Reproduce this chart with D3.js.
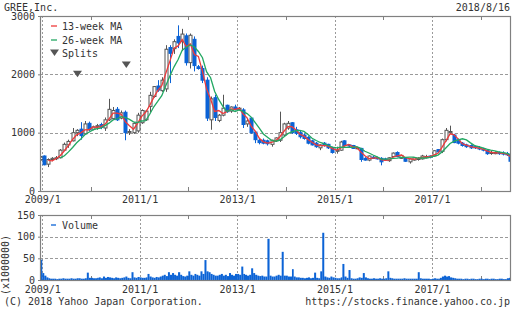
<!DOCTYPE html>
<html>
<head>
<meta charset="utf-8">
<script src="https://cdn.jsdelivr.net/npm/d3@7"></script>
<style>
body { margin: 0; background: #fff; }
text { font-family: "DejaVu Sans Mono", monospace; font-size: 10px; fill: #333; }
</style>
</head>
<body>
<div id="chart"></div>
<script>

// monthly candles from 2008/12, [open, high, low, close]
const firstMonth = "2008-12";
const ohlc = [
    [540,600,520,580],
    [600,610,440,450],[460,560,410,540],[540,580,510,560],[560,600,530,570],[570,720,560,700],[700,830,690,800],
    [790,880,740,850],[860,1080,850,1000],[1000,1060,940,1040],[1060,1180,880,950],[980,1200,960,1150],[1160,1190,1030,1050],
    [1060,1120,1040,1100],[1100,1150,1050,1120],[1140,1170,1060,1090],[1080,1260,1030,1220],[1220,1580,1200,1400],[1240,1440,1220,1380],
    [1400,1440,1200,1220],[1250,1380,1230,1340],[1350,1380,870,1000],[1000,1060,960,1020],[1000,1180,980,1160],[1030,1340,1000,1300],
    [1170,1400,1150,1380],[1220,1390,1200,1370],[1450,1700,1350,1640],[1620,1800,1600,1790],[1800,1900,1700,1730],[1720,1950,1700,1900],
    [1750,2500,1700,2430],[2460,2500,1850,2360],[2440,2600,2350,2560],[2650,2840,2450,2540],[2560,2780,2400,2690],[2660,2700,2150,2200],
    [2200,2700,2100,2670],[2600,2650,2050,2150],[2130,2160,2080,2100],[2100,2150,1850,1900],[1900,1950,1200,1250],[1220,1620,1050,1580],
    [1600,1650,1200,1260],[1210,1320,1180,1300],[1300,1650,1280,1420],[1470,1480,1340,1360],[1370,1450,1340,1440],[1440,1480,1380,1400],
    [1400,1440,1380,1420],[1390,1420,1080,1140],[1150,1250,1100,1200],[1250,1260,980,1000],[1010,1030,820,880],[870,900,800,830],
    [870,900,800,820],[860,880,780,810],[800,880,760,870],[860,920,840,910],[870,1360,840,1000],[960,1170,930,1150],
    [1080,1200,1050,1160],[1170,1180,980,1000],[1050,1100,960,990],[1000,1030,900,930],[960,990,880,900],[920,940,800,820],
    [860,880,780,790],[820,840,740,760],[740,800,700,790],[820,840,760,780],[800,810,720,740],[740,760,640,660],
    [680,760,640,700],[700,860,690,840],[860,870,760,780],[790,800,750,770],[780,790,720,730],[730,760,720,740],
    [730,740,500,540],[560,580,520,530],[530,610,510,600],[580,600,550,560],[570,590,540,550],[560,580,440,500],
    [550,570,520,530],[520,580,500,570],[590,660,580,650],[660,680,580,590],[560,620,550,610],[560,570,500,510],
    [500,560,470,550],[530,580,520,570],[540,580,520,560],[550,620,540,600],[570,620,560,590],[600,610,560,580],
    [600,700,590,690],[710,720,650,670],[680,900,650,880],[880,1080,850,1040],[1000,1120,980,1020],[960,980,820,830],
    [880,900,800,820],[820,840,760,780],[790,810,740,760],[780,800,720,740],[760,780,720,740],[740,770,700,720],
    [720,740,680,700],[700,720,620,640],[650,690,620,660],[640,680,630,660],[660,680,620,640],[650,680,610,640],
    [640,670,600,620],[620,640,500,510]
];

// volume per half month (x1000000), from 2008/12 second half
const volume = [
    47,
    16,10, 6,4, 3,3, 3,2, 3,3, 4,3, 3,3, 4,3, 3,4, 4,3, 3,4, 17,5,
    5,4, 4,5, 6,4, 8,5, 7,6, 5,4, 6,5, 4,5, 6,8, 5,4, 18,6, 5,7,
    6,5, 5,6, 14,8, 6,5, 7,6, 8,10, 12,9, 18,12, 16,12, 10,18, 12,9, 8,10,
    20,12, 10,14, 12,10, 20,14, 46,20, 18,14, 12,10, 10,12, 14,10, 12,9, 16,12, 10,14,
    14,12, 31,14, 12,10, 12,27, 16,12, 10,9, 10,8, 8,95, 10,8, 8,10, 12,10, 65,10,
    10,8, 8,25, 8,6, 6,5, 5,4, 5,6, 4,5, 17,5, 4,20, 109,8, 6,5, 8,6,
    5,4, 4,6, 37,8, 5,23, 4,3, 3,4, 6,5, 16,6, 4,3, 3,4, 3,3, 4,3,
    3,4, 20,5, 4,3, 3,3, 3,3, 4,3, 3,3, 3,3, 3,18, 4,3, 3,3, 3,2,
    3,4, 3,3, 5,8, 10,8, 9,6, 5,4, 3,3, 3,2, 3,3, 2,3, 3,2, 2,3,
    3,2, 3,3, 2,3, 3,2, 2,3, 3,2, 2,4, 5
];

const splitDates = ["2009-09-22", "2010-09-23"];
const splitLevels = [1950, 2110];

const maWeeks = [13, 26];
const maColors = ["#ee3a3a", "#22a862"];

const priceTicks = [0, 1000, 2000, 3000];
const volTicks = [0, 50, 100, 150];
const yearLabels = ["2009/1", "2011/1", "2013/1", "2015/1", "2017/1"];
const minorYears = ["2010/1", "2012/1", "2014/1", "2016/1", "2018/1"];

const title = "GREE,Inc.";
const asOf = "2018/8/16";

main();

function main() {

    let W = 512, H = 310;
    let left = 40, right = 511;
    let pTop = 16, pBot = 191;
    let vTop = 215, vBot = 280;

    let blue = "#0b63d6";
    let frame = "#808080";
    let grid = "#9a9a9a";

    let svg = d3.select("#chart").append("svg")
        .attr("width", W)
        .attr("height", H);

    let parseDay = d3.timeParse("%Y-%m-%d");
    let parseMonth = d3.timeParse("%Y-%m");
    let parseYM = d3.timeParse("%Y/%m");

    let start = parseDay("2008-12-15");
    let end = parseDay("2018-08-16");

    let x = d3.scaleTime().domain([start, end]).range([left, right]);
    let y = d3.scaleLinear().domain([0, 3000]).range([pBot, pTop]);
    let yv = d3.scaleLinear().domain([0, 150]).range([vBot, vTop]);

    let defs = svg.append("defs");
    defs.append("clipPath").attr("id", "clipP").append("rect")
        .attr("x", left).attr("y", pTop).attr("width", right - left).attr("height", pBot - pTop);
    defs.append("clipPath").attr("id", "clipV").append("rect")
        .attr("x", left).attr("y", vTop).attr("width", right - left).attr("height", vBot - vTop);

    // candles
    let m0 = parseMonth(firstMonth);
    let candles = ohlc.map((d, i) => {
        let s = d3.timeMonth.offset(m0, i);
        let e = d3.timeMonth.offset(m0, i + 1);
        let a = s < start ? start : s;
        let b = e > end ? end : e;
        return {date: new Date((+a + +b) / 2), o: d[0], h: d[1], l: d[2], c: d[3]};
    });

    // moving averages (13 / 26 weeks ~ 3 / 6 months)
    let maSeries = maWeeks.map(w => {
        let n = Math.round(w / 4.33);
        return candles.map((d, i) => i < n - 1 ? null :
            {date: d.date, v: d3.mean(candles.slice(i - n + 1, i + 1), e => e.c)});
    });

    // volume half months
    let vols = volume.map((v, i) => {
        let k = i + 1;
        let m = d3.timeMonth.offset(m0, Math.floor(k / 2));
        let s = k % 2 ? d3.timeDay.offset(m, 15) : m;
        let k2 = k + 1;
        let m2 = d3.timeMonth.offset(m0, Math.floor(k2 / 2));
        let e = k2 % 2 ? d3.timeDay.offset(m2, 15) : m2;
        return {s: s, e: e > end ? end : e, v: v};
    });

    // grids
    let gridG = svg.append("g");
    [[y, [1000, 2000]], [yv, [50, 100]]].forEach(p => {
        gridG.selectAll(null)
            .data(p[1])
            .enter()
            .append("line")
            .attr("x1", left).attr("x2", right)
            .attr("y1", d => Math.round(p[0](d)) + 0.5)
            .attr("y2", d => Math.round(p[0](d)) + 0.5)
            .style("stroke", grid)
            .style("stroke-dasharray", "3,2");
    });
    [[pTop, pBot], [vTop, vBot]].forEach(p => {
        gridG.selectAll(null)
            .data(yearLabels.map(parseYM))
            .enter()
            .append("line")
            .attr("x1", d => Math.round(x(d)) + 0.5)
            .attr("x2", d => Math.round(x(d)) + 0.5)
            .attr("y1", p[0]).attr("y2", p[1])
            .style("stroke", grid)
            .style("stroke-dasharray", "2,2");
        // minor ticks
        minorYears.map(parseYM).forEach(d => {
            let xx = Math.round(x(d)) + 0.5;
            gridG.append("line").attr("x1", xx).attr("x2", xx).attr("y1", p[0]).attr("y2", p[0] + 4)
                .style("stroke", frame);
            gridG.append("line").attr("x1", xx).attr("x2", xx).attr("y1", p[1]).attr("y2", p[1] - 4)
                .style("stroke", frame);
        });
    });

    // candlesticks
    let cg = svg.append("g").attr("clip-path", "url(#clipP)");
    let up = d => d.c >= d.o;
    cg.selectAll(".wick")
        .data(candles)
        .enter()
        .append("line")
        .attr("class", "wick")
        .attr("x1", d => Math.round(x(d.date)) + 0.5)
        .attr("x2", d => Math.round(x(d.date)) + 0.5)
        .attr("y1", d => y(d.h))
        .attr("y2", d => y(d.l))
        .style("stroke", d => up(d) ? "#555" : blue)
        .style("stroke-width", 1);
    cg.selectAll(".body")
        .data(candles)
        .enter()
        .append("rect")
        .attr("class", "body")
        .attr("x", d => Math.round(x(d.date)) - 1)
        .attr("y", d => y(Math.max(d.o, d.c)))
        .attr("width", 3)
        .attr("height", d => Math.max(1, Math.abs(y(d.o) - y(d.c))))
        .style("fill", d => up(d) ? "#fff" : blue)
        .style("stroke", d => up(d) ? "#555" : blue)
        .style("stroke-width", 1);

    // MA lines
    let line = d3.line()
        .defined(d => d)
        .x(d => x(d.date))
        .y(d => y(d.v));
    maSeries.forEach((s, i) => {
        cg.append("path")
            .datum(s)
            .attr("d", line)
            .style("fill", "none")
            .style("stroke", maColors[i])
            .style("stroke-width", 1.3);
    });

    // splits
    let tri = "M-4.5,-6.5L4.5,-6.5L0,0Z";
    svg.append("g").selectAll("path")
        .data(splitDates.map((d, i) => ({date: parseDay(d), v: splitLevels[i]})))
        .enter()
        .append("path")
        .attr("d", tri)
        .attr("transform", d => "translate(" + x(d.date) + "," + y(d.v) + ")")
        .style("fill", "#555");

    // volume bars
    svg.append("g").attr("clip-path", "url(#clipV)")
        .selectAll("rect")
        .data(vols)
        .enter()
        .append("rect")
        .attr("x", d => x(d.s))
        .attr("y", d => yv(d.v))
        .attr("width", d => Math.max(0, x(d.e) - x(d.s)))
        .attr("height", d => vBot - yv(d.v))
        .style("fill", blue);

    // frames
    [[pTop, pBot], [vTop, vBot]].forEach(p => {
        svg.append("rect")
            .attr("x", left + 0.5).attr("y", p[0] + 0.5)
            .attr("width", right - left - 1).attr("height", p[1] - p[0])
            .style("fill", "none")
            .style("stroke", frame)
            .style("stroke-width", 1.2);
    });

    // axes
    let styleAxis = g => {
        g.attr("font-size", null).attr("font-family", null);
        g.select(".domain").remove();
        g.selectAll(".tick line").style("stroke", frame);
        g.selectAll("text").attr("fill", null);
    };
    let numFmt = d3.format("d");
    svg.append("g").attr("transform", "translate(" + left + ",0)")
        .call(d3.axisLeft(y).tickValues(priceTicks).tickFormat(numFmt).tickSize(2).tickPadding(3))
        .call(styleAxis);
    svg.append("g").attr("transform", "translate(" + left + ",0)")
        .call(d3.axisLeft(yv).tickValues(volTicks).tickFormat(numFmt).tickSize(2).tickPadding(3))
        .call(styleAxis);
    let fmt = d3.timeFormat("%Y/%-m");
    [pBot, vBot].forEach((b, i) => {
        svg.append("g").attr("transform", "translate(0," + b + ")")
            .call(d3.axisBottom(x).tickValues(yearLabels.map(parseYM)).tickFormat(fmt).tickSize(0).tickPadding(i ? 6 : 5))
            .call(styleAxis);
    });

    // texts
    svg.append("text").attr("x", 4).attr("y", 11).text(title);
    svg.append("text").attr("x", 510).attr("y", 11).attr("text-anchor", "end").text(asOf);
    svg.append("text").attr("x", 4).attr("y", 305).text("(C) 2018 Yahoo Japan Corporation.");
    svg.append("text").attr("x", 510).attr("y", 305).attr("text-anchor", "end").text("https://stocks.finance.yahoo.co.jp");
    svg.append("text")
        .attr("transform", "translate(9,265) rotate(-90)")
        .attr("text-anchor", "middle")
        .text("(x1000000)");

    // legends
    let lg = svg.append("g");
    let rows = [
        {label: maWeeks[0] + "-week MA", color: maColors[0], y: 26},
        {label: maWeeks[1] + "-week MA", color: maColors[1], y: 40}
    ];
    rows.forEach(r => {
        lg.append("line").attr("x1", 51).attr("x2", 57).attr("y1", r.y).attr("y2", r.y)
            .style("stroke", r.color).style("stroke-width", 1.3);
        lg.append("text").attr("x", 62).attr("y", r.y).attr("dy", "0.35em").text(r.label);
    });
    lg.append("path").attr("d", tri).attr("transform", "translate(54.5,56)").style("fill", "#555");
    lg.append("text").attr("x", 62).attr("y", 53).attr("dy", "0.35em").text("Splits");
    lg.append("line").attr("x1", 51).attr("x2", 56).attr("y1", 225).attr("y2", 225)
        .style("stroke", blue).style("stroke-width", 1.3);
    lg.append("text").attr("x", 62).attr("y", 225).attr("dy", "0.35em").text("Volume");
}
</script>
</body>
</html>
